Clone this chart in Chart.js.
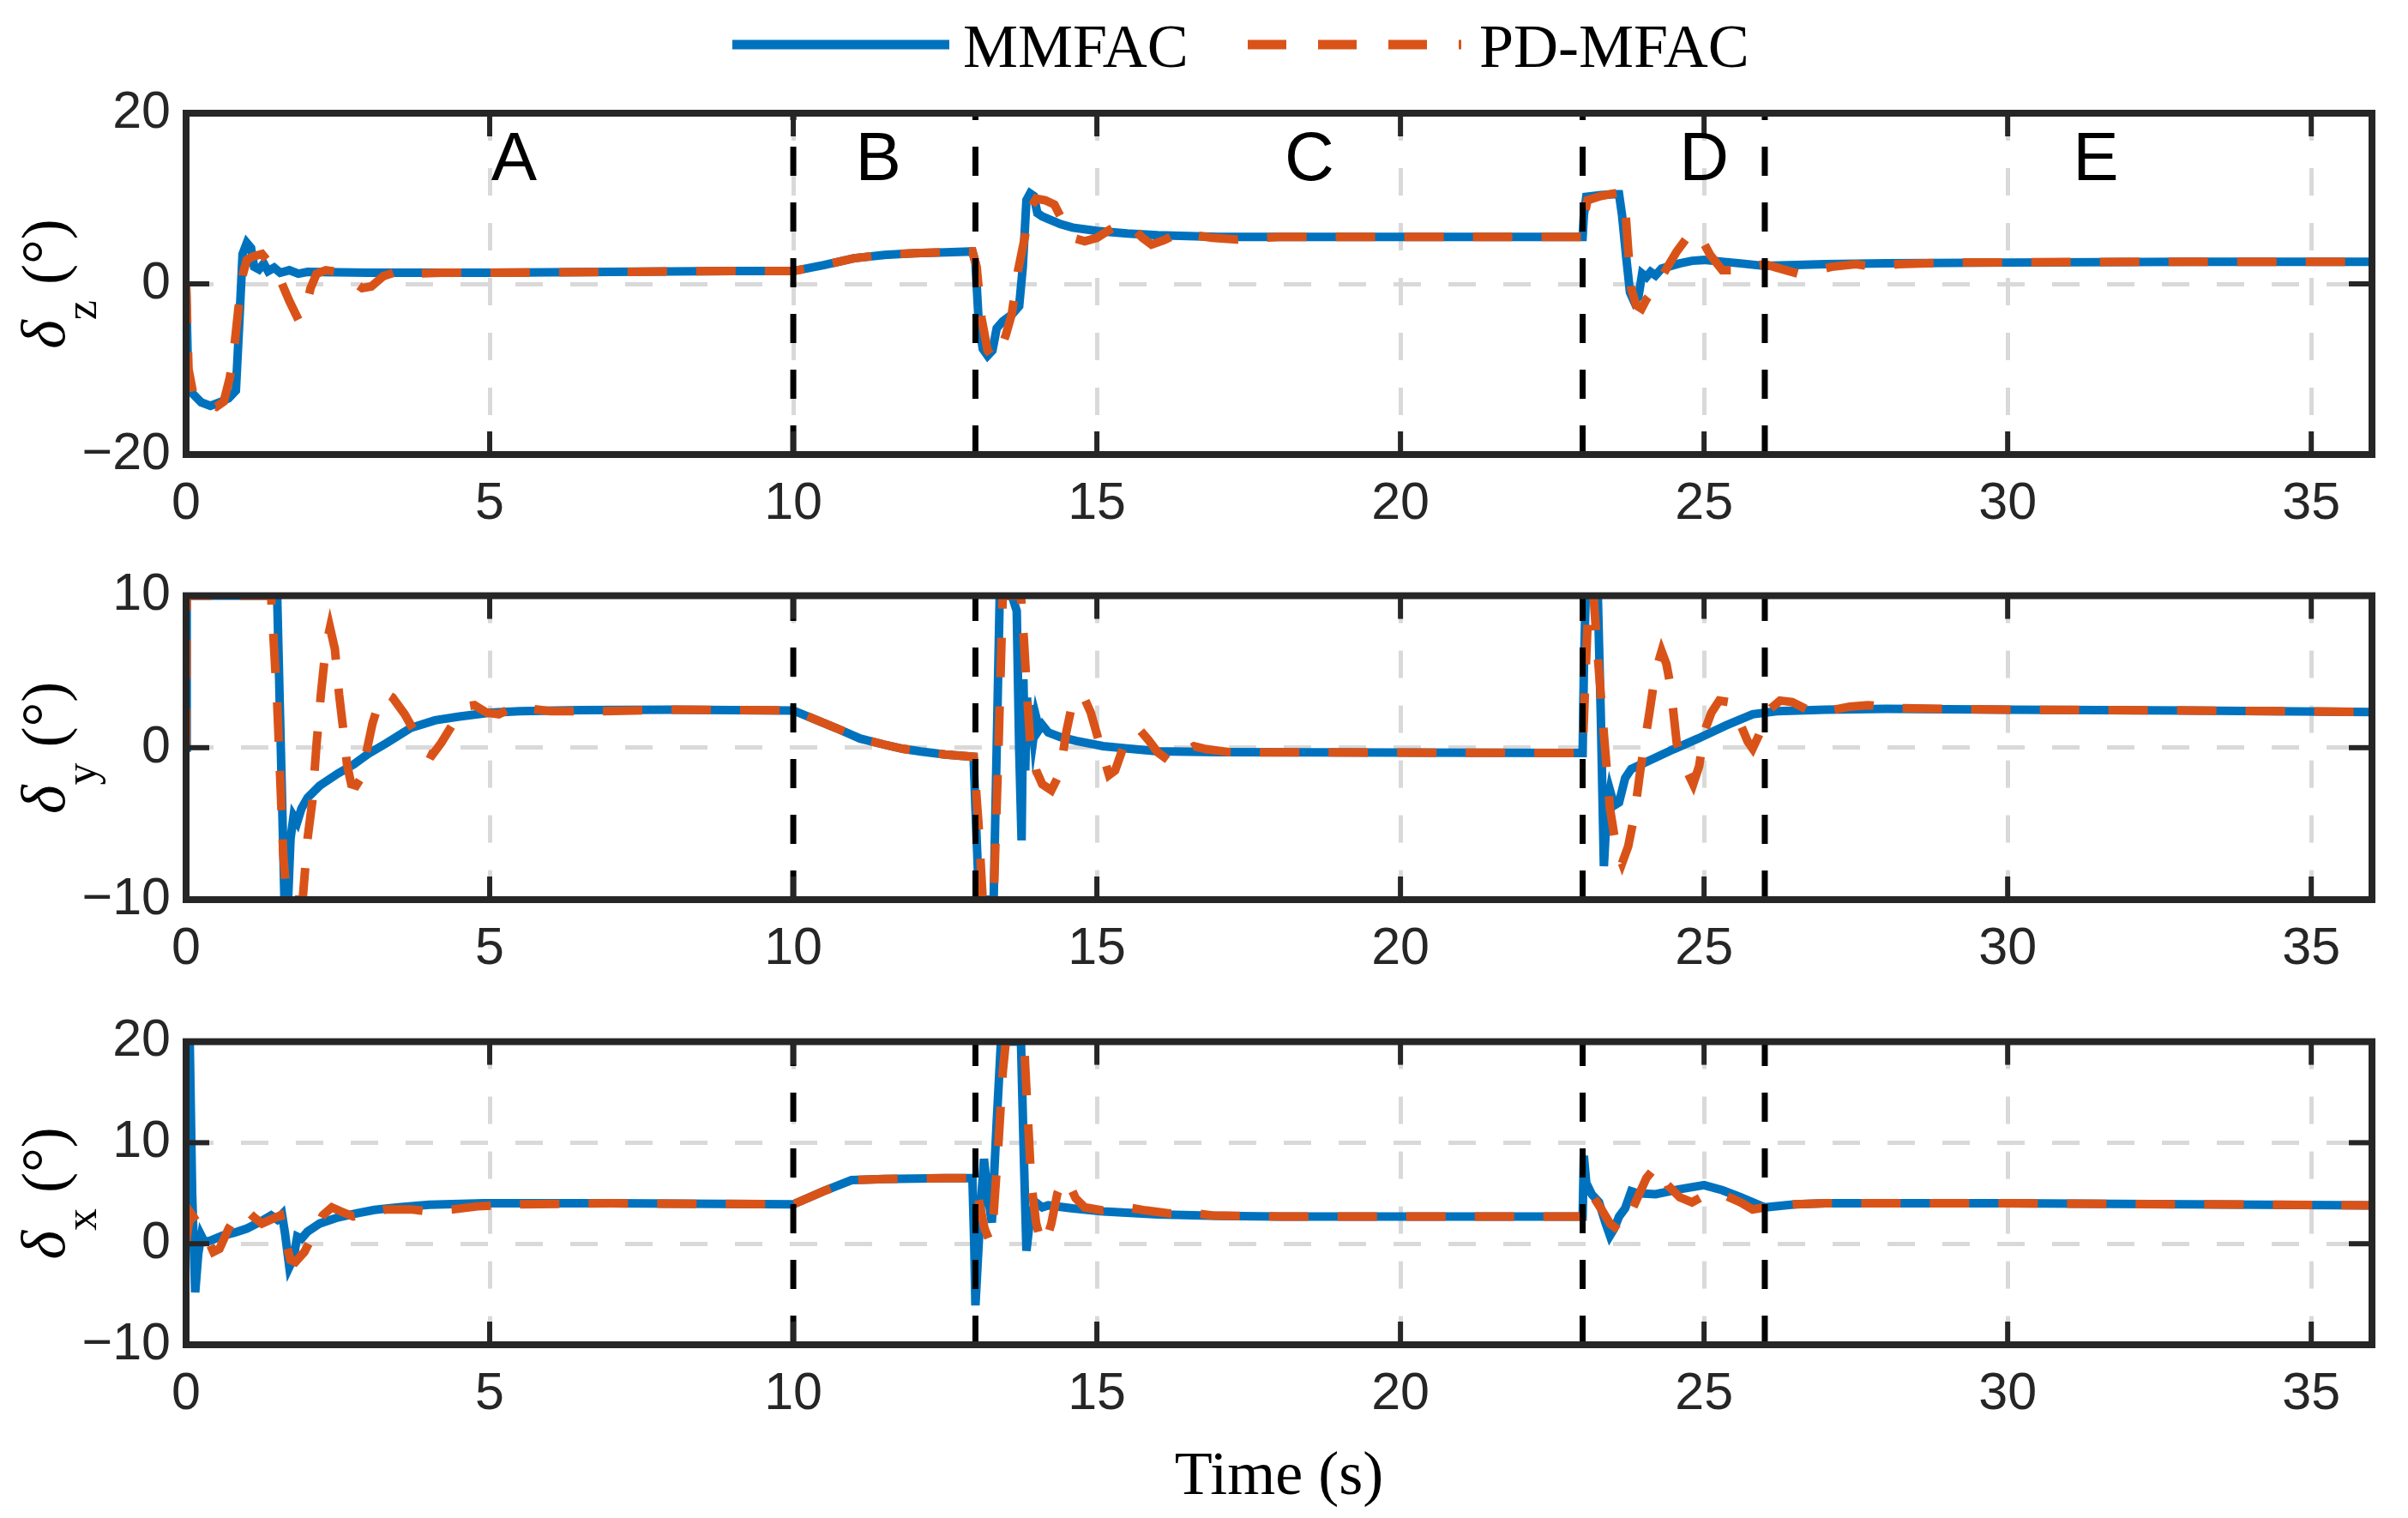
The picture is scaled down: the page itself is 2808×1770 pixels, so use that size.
<!DOCTYPE html>
<html>
<head>
<meta charset="utf-8">
<script src="https://cdn.jsdelivr.net/npm/chart.js@4.4.1/dist/chart.umd.min.js"></script>
<style>
  body { margin: 0; background: #fff; width: 2808px; height: 1770px; overflow: hidden; position: relative; }
  canvas { position: absolute; left: 0; }
</style>
</head>
<body>
<canvas id="chartZ" width="2808" height="640" style="top:0px"></canvas>
<canvas id="chartY" width="2808" height="520" style="top:640px"></canvas>
<canvas id="chartX" width="2808" height="610" style="top:1160px"></canvas>
<script>
// ---- data ----
const seriesNames = ['MMFAC', 'PD-MFAC'];
const phaseBounds = [10, 13, 23, 26];
const phaseNames = ['A', 'B', 'C', 'D', 'E'];
const phaseLabelX = [5.4, 11.4, 18.5, 25.0, 31.45];

// delta_z
const timeZ_MM = [0, 0.03, 0.1, 0.25, 0.4, 0.55, 0.7, 0.82, 0.88, 0.93, 1.0, 1.07, 1.12, 1.2, 1.28, 1.35, 1.45, 1.55, 1.7, 1.85, 2.0, 3, 5, 7, 9, 10, 10.5, 11, 11.5, 12, 12.5, 12.95, 13.0, 13.05, 13.12, 13.2, 13.28, 13.35, 13.45, 13.6, 13.72, 13.78, 13.84, 13.9, 13.96, 14.02, 14.1, 14.2, 14.4, 14.6, 15, 15.5, 16, 16.5, 17, 23, 23.02, 23.06, 23.3, 23.5, 23.6, 23.65, 23.72, 23.78, 23.85, 23.92, 23.98, 24.05, 24.12, 24.2, 24.3, 24.45, 24.6, 24.8, 25, 25.3, 25.6, 26, 26.5, 27, 28, 30, 33, 36];
const valZ_MM  = [0, -10, -12.8, -13.9, -14.3, -13.9, -13.4, -12.5, -4, 3.5, 4.8, 4.2, 2.0, 1.7, 2.4, 1.5, 1.9, 1.3, 1.6, 1.2, 1.4, 1.3, 1.3, 1.4, 1.5, 1.5, 2.2, 3.0, 3.4, 3.6, 3.7, 3.8, 2.5, -4, -7.6, -8.4, -7.8, -5.2, -4.4, -3.6, -2.6, 2, 9.8, 10.6, 10.3, 8.3, 7.9, 7.6, 7.0, 6.6, 6.2, 5.9, 5.7, 5.6, 5.5, 5.5, 8, 10.2, 10.4, 10.5, 10.5, 8, 3, -1, -2.1, -1.5, 1.2, 0.8, 1.4, 1.0, 1.8, 2.1, 2.4, 2.7, 2.8, 2.6, 2.4, 2.1, 2.2, 2.3, 2.4, 2.5, 2.6, 2.6];
const timeZ_PD = [0, 0.04, 0.12, 0.3, 0.5, 0.62, 0.72, 0.8, 0.86, 0.93, 1.0, 1.1, 1.25, 1.4, 1.55, 1.7, 1.85, 1.95, 2.05, 2.15, 2.3, 2.5, 2.7, 2.9, 3.05, 3.25, 3.5, 3.8, 4.2, 5, 7, 9, 10, 10.5, 11, 11.5, 12, 12.5, 12.95, 13.02, 13.1, 13.2, 13.3, 13.4, 13.5, 13.6, 13.7, 13.8, 13.9, 14.0, 14.15, 14.3, 14.45, 14.6, 14.8, 15.0, 15.2, 15.4, 15.55, 15.75, 15.9, 16.1, 16.3, 16.6, 16.9, 17.3, 17.7, 18, 23, 23.03, 23.08, 23.3, 23.6, 23.7, 23.75, 23.8, 23.88, 23.97, 24.05, 24.2, 24.35, 24.55, 24.75, 24.85, 24.95, 25.1, 25.3, 25.5, 25.7, 26, 26.3, 26.55, 26.8, 27.1, 27.5, 27.8, 28.2, 29, 33, 36];
const valZ_PD  = [0, -10, -13, -14, -14.4, -13.8, -11, -7, -3, 1, 2.8, 3.2, 3.5, 2.2, 0.5, -2.0, -4.2, -3.5, -0.5, 1.2, 1.6, 1.4, 0.5, -0.5, -0.3, 0.9, 1.5, 1.2, 1.3, 1.3, 1.4, 1.5, 1.5, 2.2, 3.0, 3.4, 3.6, 3.7, 3.8, 2, -4, -7.8, -8.8, -8, -6, -3.5, 1.5, 5, 8.8, 10, 9.8, 9.3, 7.2, 5.4, 5.0, 5.4, 6.3, 7.1, 6.8, 5.4, 4.6, 5.1, 5.8, 5.7, 5.4, 5.2, 5.4, 5.5, 5.5, 8, 9.8, 10.3, 10.7, 9, 4, -0.5, -2.5, -2.9, -1.8, -0.5, 1.4, 3.8, 5.7, 6.1, 5.4, 3.4, 1.6, 1.6, 2.0, 2.3, 1.7, 1.2, 1.5, 2.0, 2.3, 2.0, 2.3, 2.5, 2.6, 2.6];

// delta_y
const timeY_MM = [0, 0.01, 1.5, 1.56, 1.62, 1.68, 1.72, 1.77, 1.83, 1.9, 2.0, 2.2, 2.5, 2.76, 3.0, 3.3, 3.7, 4.1, 4.5, 5.0, 5.5, 6.5, 8, 10, 10.7, 11.1, 11.5, 11.8, 12.1, 12.5, 12.97, 13.0, 13.06, 13.3, 13.35, 13.4, 13.6, 13.68, 13.72, 13.76, 13.79, 13.82, 13.85, 13.88, 13.92, 13.96, 14.0, 14.05, 14.1, 14.2, 14.4, 14.66, 15.1, 15.5, 16, 17, 23, 23.02, 23.05, 23.25, 23.3, 23.35, 23.4, 23.45, 23.52, 23.6, 23.7, 23.8, 24.07, 24.5, 24.9, 25.36, 25.8, 26.2, 27, 28, 30, 33, 36];
const valY_MM  = [0, 10, 10, 0, -10, -10, -6, -4.5, -4.9, -4.0, -3.3, -2.5, -1.7, -1.1, -0.4, 0.3, 1.3, 1.8, 2.05, 2.3, 2.4, 2.47, 2.5, 2.45, 1.3, 0.6, 0.2, -0.07, -0.25, -0.45, -0.6, -4, -10, -10, 0, 10, 10, 9, 0, -6.1, 4.5, -1.5, 3.3, 0.2, 2.8, 0.8, 2.0, 1.2, 1.5, 1.0, 0.7, 0.45, 0.1, -0.05, -0.24, -0.3, -0.35, 5, 10, 10, 2, -7.8, -4, -2.8, -3.8, -3.6, -2.0, -1.4, -0.9, -0.1, 0.6, 1.46, 2.2, 2.4, 2.5, 2.55, 2.5, 2.45, 2.35];
const timeY_PD = [0, 0.01, 1.4, 1.5, 1.6, 1.66, 1.92, 2.0, 2.08, 2.15, 2.22, 2.3, 2.37, 2.45, 2.52, 2.6, 2.65, 2.72, 2.8, 2.88, 2.98, 3.07, 3.18, 3.28, 3.4, 3.6, 3.8, 3.95, 4.05, 4.2, 4.4, 4.6, 4.75, 4.95, 5.15, 5.4, 5.6, 6, 6.8, 8, 10, 10.7, 11.1, 11.5, 11.8, 12.1, 12.5, 12.97, 13.05, 13.12, 13.3, 13.38, 13.45, 13.75, 13.8, 13.85, 13.9, 14.0, 14.1, 14.25, 14.35, 14.42, 14.5, 14.6, 14.7, 14.8, 14.9, 15.05, 15.2, 15.3, 15.45, 15.6, 15.7, 15.85, 16.0, 16.2, 16.4, 16.6, 16.8, 17.2, 23, 23.05, 23.1, 23.18, 23.25, 23.35, 23.45, 23.55, 23.65, 23.75, 23.85, 23.95, 24.02, 24.1, 24.2, 24.3, 24.38, 24.45, 24.55, 24.7, 24.82, 24.92, 25.0, 25.12, 25.25, 25.4, 25.55, 25.72, 25.8, 25.9, 26.05, 26.25, 26.45, 26.7, 27.0, 27.4, 27.7, 28.2, 30, 33, 36];
const valY_PD  = [0, 10, 10, 3, -7, -10, -10, -6, -3.5, 0.3, 3.5, 6.6, 7.9, 6.5, 3.5, 0.8, -1.1, -2.4, -2.5, -2.0, -0.1, 1.6, 3.0, 3.6, 3.3, 2.2, 0.8, -0.3, -0.5, 0.3, 1.6, 2.7, 2.8, 2.3, 2.2, 2.7, 2.6, 2.4, 2.4, 2.5, 2.45, 1.3, 0.6, 0.2, -0.07, -0.25, -0.45, -0.6, -5, -10, -10, 0, 10, 10, 7, 3.5, 0.5, -1.5, -2.4, -2.8, -2.0, -0.9, 1.1, 3.0, 3.5, 3.2, 2.3, 0.2, -1.8, -1.5, 0.2, 1.0, 1.2, 0.5, -0.3, -0.9, -0.4, 0.1, -0.1, -0.3, -0.35, 5, 10, 10, 6, 0.9, -4, -6.5, -7.6, -6.5, -4.5, -1.5, 0.3, 2.3, 5.0, 6.35, 5.5, 4.0, 0.3, -1.4, -2.4, -1.2, 1.0, 2.3, 3.1, 3.0, 2.0, 0.4, -0.06, 0.8, 2.4, 3.1, 3.0, 2.5, 2.4, 2.7, 2.8, 2.6, 2.5, 2.45, 2.35];

// delta_x
const timeX_MM = [0, 0.02, 0.06, 0.1, 0.15, 0.2, 0.25, 0.3, 0.4, 0.6, 0.8, 1.0, 1.2, 1.4, 1.5, 1.58, 1.63, 1.7, 1.77, 1.83, 1.9, 2.0, 2.2, 2.5, 2.8, 3.1, 3.5, 4.0, 4.9, 7, 10, 10.5, 10.96, 11.5, 12.5, 12.95, 12.98, 13.0, 13.08, 13.14, 13.2, 13.27, 13.35, 13.42, 13.75, 13.8, 13.84, 13.9, 13.99, 14.1, 14.2, 14.6, 15.1, 16, 17, 18, 23, 23.02, 23.06, 23.15, 23.27, 23.38, 23.45, 23.52, 23.6, 23.7, 23.8, 23.9, 24.2, 24.6, 25.0, 25.3, 25.6, 26.0, 26.5, 27, 30, 33, 36];
const valX_MM  = [0, 20, 20, 5, -4.8, -1, 0.8, 0.2, 0.3, 0.8, 1.1, 1.5, 2.1, 2.8, 2.4, 2.9, 1.0, -2.3, -1.4, 0.7, 0.5, 1.2, 2.0, 2.6, 3.0, 3.35, 3.6, 3.86, 4.0, 4.0, 3.9, 5.2, 6.3, 6.4, 6.5, 6.5, 0, -6.1, 3, 8.4, 5, 2.1, 12, 20, 20, 8, -0.7, 2.5, 4.1, 3.6, 3.8, 3.5, 3.2, 2.9, 2.75, 2.7, 2.7, 8.7, 6, 4.9, 4.1, 2.0, 0.8, 1.5, 2.7, 3.5, 5.2, 5.0, 4.9, 5.4, 5.8, 5.3, 4.6, 3.6, 3.9, 4.0, 4.0, 3.9, 3.8];
const timeX_PD = [0, 0.03, 0.08, 0.15, 0.3, 0.45, 0.55, 0.7, 0.85, 1.0, 1.12, 1.25, 1.4, 1.55, 1.65, 1.72, 1.8, 1.95, 2.1, 2.25, 2.4, 2.55, 2.75, 3.0, 3.3, 3.7, 4.0, 4.4, 4.8, 5.5, 7, 10, 10.5, 10.96, 11.5, 12.5, 12.95, 13.05, 13.15, 13.23, 13.3, 13.38, 13.45, 13.5, 13.8, 13.85, 13.92, 14.0, 14.08, 14.15, 14.25, 14.35, 14.45, 14.55, 14.65, 14.8, 15.1, 15.5, 15.8, 16.2, 16.5, 16.9, 18, 23, 23.08, 23.15, 23.3, 23.45, 23.6, 23.75, 23.9, 24.05, 24.2, 24.3, 24.4, 24.6, 24.8, 24.95, 25.1, 25.3, 25.6, 25.8, 26.1, 26.5, 27, 30, 33, 36];
const valX_PD  = [0, 1.5, 3.0, 2.4, 1.2, -0.8, -0.5, 1.5, 3.0, 3.3, 2.6, 2.0, 2.4, 2.8, 0, -1.6, -1.8, -0.8, 1.0, 2.8, 3.6, 3.2, 2.7, 3.0, 3.4, 3.4, 3.2, 3.4, 3.7, 3.9, 4.0, 3.9, 5.2, 6.3, 6.4, 6.5, 6.5, 4.5, 1.5, 0.3, 3, 10, 17, 20, 20, 14, 6, 2, 0.2, 0.0, 2, 5, 6.4, 5.8, 4.5, 3.6, 3.3, 3.6, 3.3, 3.0, 3.1, 2.8, 2.7, 2.7, 3.8, 4.9, 3.5, 2.0, 1.3, 2.5, 4.5, 6.5, 7.6, 7.2, 5.8, 4.6, 4.1, 4.6, 5.0, 4.9, 4.1, 3.4, 3.7, 3.9, 4.0, 4.0, 3.9, 3.8];

// ---- look ----
const BLUE = '#0072BD';
const ORANGE = '#D95319';
const AXIS = '#262626';
const GRID = '#d9d9d9';
const PLOT_LEFT = 217;
const PLOT_RIGHT = 2766;
const SANS = '"Liberation Sans", Arial, sans-serif';
const SERIF = '"Liberation Serif", "Times New Roman", serif';

function toPoints(times, vals) {
    return times.map((t, i) => ({ x: t, y: vals[i] }));
}

function line(ctx, x1, y1, x2, y2) {
    ctx.beginPath();
    ctx.moveTo(x1, y1);
    ctx.lineTo(x2, y2);
    ctx.stroke();
}

const decorPlugin = {
    id: 'decor',
    afterDatasetsDraw(chart, args, opts) {
        const { ctx, chartArea: a, scales: { x, y } } = chart;
        ctx.save();
        // phase boundaries
        ctx.strokeStyle = '#000';
        ctx.lineWidth = 7;
        ctx.setLineDash([34, 31]);
        phaseBounds.forEach(t => {
            const px = x.getPixelForValue(t);
            line(ctx, px, a.bottom, px, a.top);
        });
        ctx.setLineDash([]);
        // inward tick marks on all four sides
        ctx.strokeStyle = AXIS;
        ctx.lineWidth = 6;
        x.ticks.forEach(t => {
            const px = x.getPixelForValue(t.value);
            line(ctx, px, a.top, px, a.top + 27);
            line(ctx, px, a.bottom, px, a.bottom - 27);
        });
        y.ticks.forEach(t => {
            const py = y.getPixelForValue(t.value);
            line(ctx, a.left, py, a.left + 27, py);
            line(ctx, a.right, py, a.right - 27, py);
        });
        // box
        ctx.lineWidth = 8;
        ctx.strokeRect(a.left, a.top, a.right - a.left, a.bottom - a.top);
        // region letters
        if (opts.regions) {
            ctx.fillStyle = '#000';
            ctx.font = '80px ' + SANS;
            ctx.textAlign = 'center';
            ctx.textBaseline = 'middle';
            const py = y.getPixelForValue(14.4);
            phaseNames.forEach((n, i) => ctx.fillText(n, x.getPixelForValue(phaseLabelX[i]), py));
        }
        ctx.restore();
    },
    afterDraw(chart, args, opts) {
        const { ctx, chartArea: a } = chart;
        ctx.save();
        ctx.fillStyle = '#000';
        ctx.textAlign = 'left';
        ctx.textBaseline = 'alphabetic';

        // y axis title: delta with subscript
        ctx.translate(75, (a.top + a.bottom) / 2);
        ctx.rotate(-Math.PI / 2);
        const fMain = 'italic 72px ' + SERIF;
        const fSub = '52px ' + SERIF;
        const fRest = '72px ' + SERIF;
        ctx.font = fMain; const wd = ctx.measureText('δ').width;
        ctx.font = fSub; const ws = ctx.measureText(opts.sub).width;
        ctx.font = fRest; const wr = ctx.measureText(' (°)').width;
        let u = -(wd + ws + wr) / 2;
        ctx.font = fMain; ctx.fillText('δ', u, 0); u += wd;
        ctx.font = fSub; ctx.fillText(opts.sub, u, 37); u += ws;
        ctx.font = fRest; ctx.fillText(' (°)', u, 0);
        ctx.setTransform(1, 0, 0, 1, 0, 0);

        if (opts.legend) {
            ctx.lineWidth = 11;
            ctx.strokeStyle = BLUE;
            line(ctx, 854, 52, 1107, 52);
            ctx.strokeStyle = ORANGE;
            ctx.setLineDash([45, 37]);
            line(ctx, 1455, 52, 1704, 52);
            ctx.setLineDash([]);
            ctx.font = '72px ' + SERIF;
            ctx.fillText(seriesNames[0], 1123, 78);
            ctx.fillText(seriesNames[1], 1725, 78);
        }
        if (opts.xTitle) {
            ctx.font = '72px ' + SERIF;
            ctx.textAlign = 'center';
            ctx.fillText('Time (s)', (a.left + a.right) / 2, 582);
        }
        ctx.restore();
    }
};

function makeChart(canvasId, mm, pd, yMin, yMax, yStep, padTop, xAxisH, decor) {
    return new Chart(document.getElementById(canvasId), {
        type: 'line',
        data: {
            datasets: [{
                label: seriesNames[0],
                data: mm,
                borderColor: BLUE,
                borderWidth: 10,
                pointRadius: 0,
                tension: 0,
                order: 1
            }, {
                label: seriesNames[1],
                data: pd,
                borderColor: ORANGE,
                borderWidth: 10,
                borderDash: [46, 34],
                pointRadius: 0,
                tension: 0,
                order: 0
            }]
        },
        options: {
            responsive: false,
            animation: false,
            devicePixelRatio: 1,
            layout: { padding: { left: 0, right: 2808 - PLOT_RIGHT, top: padTop, bottom: 0 } },
            plugins: {
                legend: { display: false },
                tooltip: { enabled: false },
                decor: decor
            },
            scales: {
                x: {
                    type: 'linear',
                    min: 0,
                    max: 36,
                    afterFit: s => { s.height = xAxisH; },
                    ticks: {
                        stepSize: 5,
                        includeBounds: false,
                        autoSkip: false,
                        maxRotation: 0,
                        padding: 22,
                        color: AXIS,
                        font: { family: SANS, size: 61 }
                    },
                    grid: { color: GRID, lineWidth: 5, drawTicks: false },
                    border: { display: false, dash: [32, 32] }
                },
                y: {
                    min: yMin,
                    max: yMax,
                    afterFit: s => { s.width = PLOT_LEFT; },
                    ticks: {
                        stepSize: yStep,
                        padding: 18,
                        color: AXIS,
                        font: { family: SANS, size: 61 },
                        callback: v => String(v).replace('-', '\u2212')
                    },
                    grid: { color: GRID, lineWidth: 5, drawTicks: false },
                    border: { display: false, dash: [32, 32] }
                }
            }
        },
        plugins: [decorPlugin]
    });
}

makeChart('chartZ', toPoints(timeZ_MM, valZ_MM), toPoints(timeZ_PD, valZ_PD), -20, 20, 20, 132, 110,
    { sub: 'z', legend: true, regions: true });
makeChart('chartY', toPoints(timeY_MM, valY_MM), toPoints(timeY_PD, valY_PD), -10, 10, 10, 15, 111,
    { sub: 'y' });
makeChart('chartX', toPoints(timeX_MM, valX_MM), toPoints(timeX_PD, valX_PD), -10, 20, 10, 16, 202,
    { sub: 'x', xTitle: true });
</script>
</body>
</html>
